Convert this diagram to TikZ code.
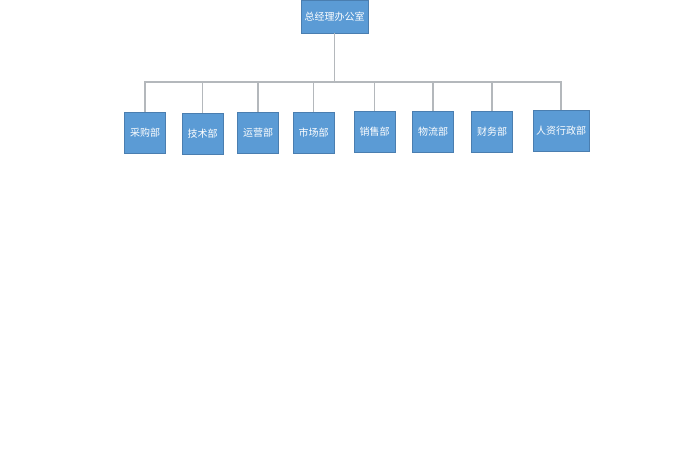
\documentclass[tikz,border=0pt]{standalone}
\usepackage{fontspec}
\newfontfamily\cjk{Noto Sans CJK SC}
\definecolor{boxfill}{HTML}{5B9BD5}
\definecolor{boxline}{HTML}{4A7EB0}
\definecolor{conn}{HTML}{B4B8BC}
\begin{document}
\begin{tikzpicture}[x=1pt,y=-1pt,
  orgbox/.style={draw=boxline,line width=0.8pt,fill=boxfill,text=white,inner sep=0pt,
    font=\cjk\fontsize{10}{12}\selectfont,minimum height=41pt},
  link/.style={draw=conn,line width=1.2pt}]
\useasboundingbox (0,0) rectangle (700,470);
\node[orgbox,minimum width=67pt,minimum height=33pt] (top) at (334.5,16.5) {总经理办公室};
\node[orgbox,minimum width=41pt] (d1) at (145,133) {采购部};
\node[orgbox,minimum width=41pt] (d2) at (202.5,133.5) {技术部};
\node[orgbox,minimum width=41pt] (d3) at (258,133) {运营部};
\node[orgbox,minimum width=41pt] (d4) at (313.5,133) {市场部};
\node[orgbox,minimum width=41pt] (d5) at (374.5,131.5) {销售部};
\node[orgbox,minimum width=41pt] (d6) at (433,131.5) {物流部};
\node[orgbox,minimum width=41pt] (d7) at (492,131.5) {财务部};
\node[orgbox,minimum width=56pt] (d8) at (561,131) {人资行政部};
\coordinate (bus) at (334.5,82);
\draw[link] (top.south) -- (bus);
\foreach \d in {d1,d2,d3,d4,d5,d6,d7,d8}{
  \draw[link] (\d.north) |- (bus);
}
\end{tikzpicture}
\end{document}
